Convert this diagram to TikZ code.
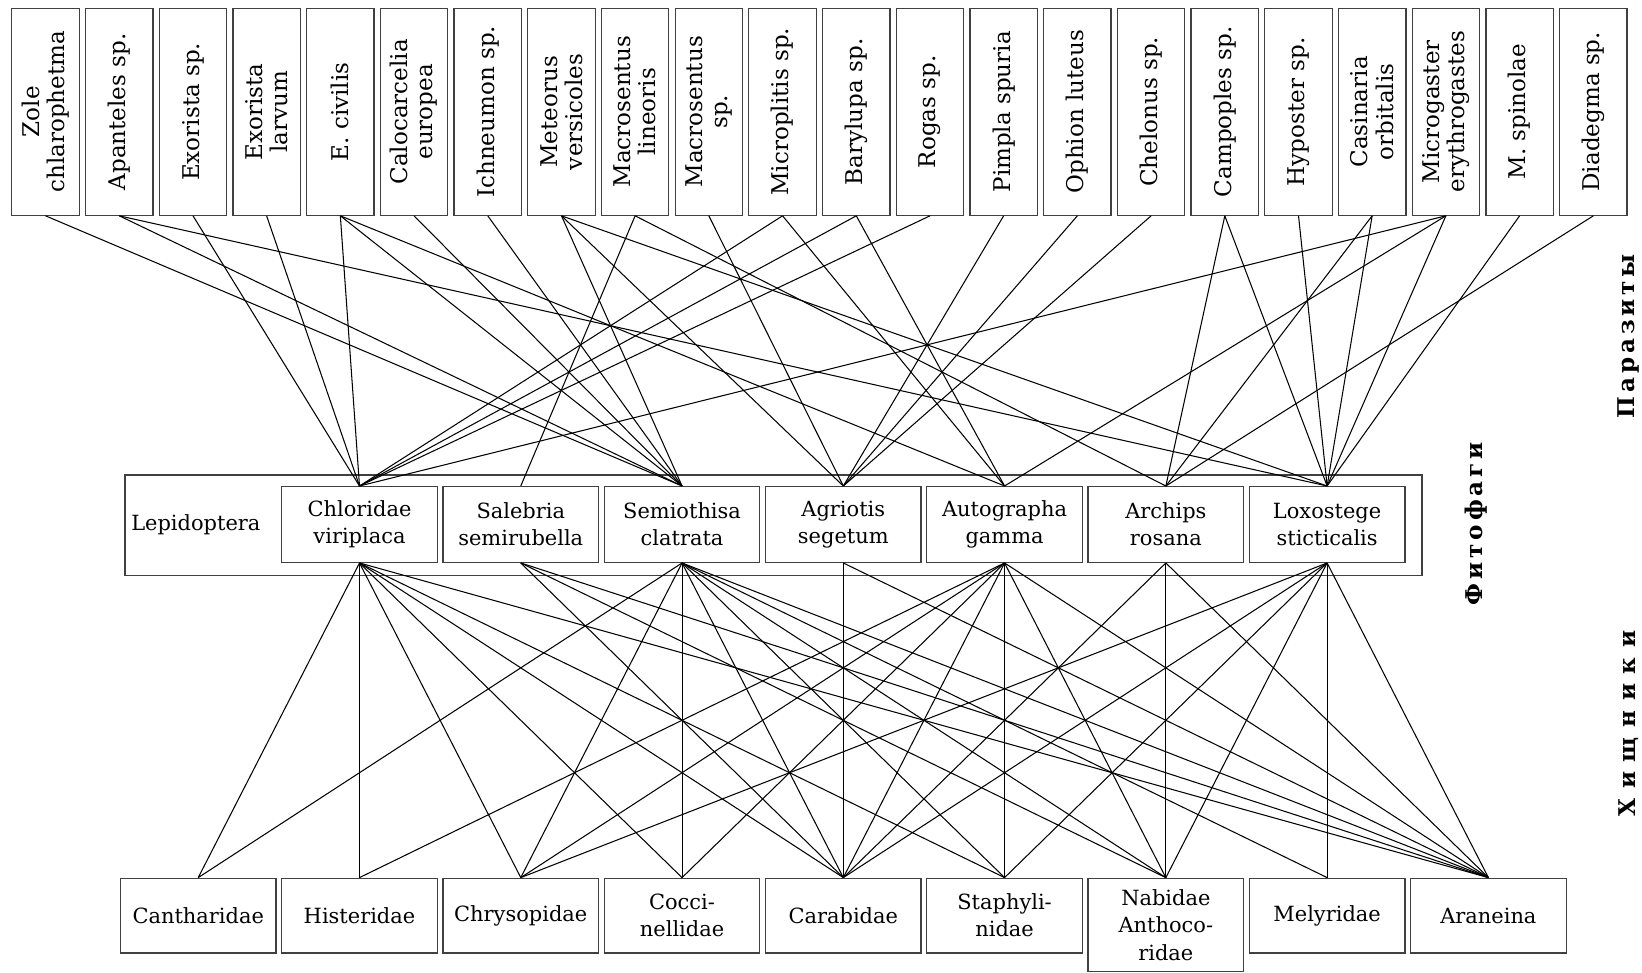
\documentclass[tikz,border=0pt]{standalone}
\usepackage{fontspec}
\setmainfont{DejaVu Serif}
\newfontfamily\rusfont[LetterSpace=17]{DejaVu Serif}
\newfontfamily\rusfontwide[LetterSpace=42]{DejaVu Serif}
\begin{document}
\begin{tikzpicture}[x=0.5pt,y=-0.5pt,
  box/.style={draw=black!75, line width=0.6pt, rectangle, inner sep=0pt, align=center},
  topbox/.style={box, rotate=90, minimum width=98.75pt, minimum height=32.2pt, font=\fontsize{11}{12}\selectfont},
  midbox/.style={box, minimum width=74.25pt, minimum height=36.15pt, font=\fontsize{10}{13}\selectfont},
  botbox/.style={box, minimum width=74.25pt, minimum height=35.65pt, font=\fontsize{10}{13}\selectfont},
  link/.style={line width=0.5pt, black},
  grp/.style={rotate=90, inner sep=0pt, font=\rusfont\bfseries\fontsize{11}{12}\selectfont},
  grpwide/.style={rotate=90, inner sep=0pt, font=\rusfontwide\bfseries\fontsize{11}{12}\selectfont}]
\useasboundingbox (0,0) rectangle (1568,929);
% top row: parasites
\node[topbox] (t1)  at (43.5,106.75)   {Zole\\chlarophetma};
\node[topbox] (t2)  at (113.9,106.75)  {Apanteles sp.};
\node[topbox] (t3)  at (184.3,106.75)  {Exorista sp.};
\node[topbox] (t4)  at (254.6,106.75)  {Exorista\\larvum};
\node[topbox] (t5)  at (325.0,106.75)  {E. civilis};
\node[topbox] (t6)  at (395.4,106.75)  {Calocarcelia\\europea};
\node[topbox] (t7)  at (465.8,106.75)  {Ichneumon sp.};
\node[topbox] (t8)  at (536.2,106.75)  {Meteorus\\versicoles};
\node[topbox] (t9)  at (606.5,106.75)  {Macrosentus\\lineoris};
\node[topbox] (t10) at (676.9,106.75)  {Macrosentus\\sp.};
\node[topbox] (t11) at (747.3,106.75)  {Microplitis sp.};
\node[topbox] (t12) at (817.7,106.75)  {Barylupa sp.};
\node[topbox] (t13) at (888.1,106.75)  {Rogas sp.};
\node[topbox] (t14) at (958.4,106.75)  {Pimpla spuria};
\node[topbox] (t15) at (1028.8,106.75) {Ophion luteus};
\node[topbox] (t16) at (1099.2,106.75) {Chelonus sp.};
\node[topbox] (t17) at (1169.6,106.75) {Campoples sp.};
\node[topbox] (t18) at (1240.0,106.75) {Hyposter sp.};
\node[topbox] (t19) at (1310.3,106.75) {Casinaria\\orbitalis};
\node[topbox] (t20) at (1380.7,106.75) {Microgaster\\erythrogastes};
\node[topbox] (t21) at (1451.1,106.75) {M. spinolae};
\node[topbox] (t22) at (1521.5,106.75) {Diadegma sp.};
% middle row: phytophages
\node[box, minimum width=619.3pt, minimum height=48.05pt] (lep) at (738.7,501.65) {};
\node[font=\fontsize{10}{13}\selectfont, inner sep=0pt] (leplabel) at (187,501) {Lepidoptera};
\node[midbox] (m1) at (343.3,500.85)  {Chloridae\\viriplaca};
\node[midbox] (m2) at (497.3,500.85)  {Salebria\\semirubella};
\node[midbox] (m3) at (651.3,500.85)  {Semiothisa\\clatrata};
\node[midbox] (m4) at (805.3,500.85)  {Agriotis\\segetum};
\node[midbox] (m5) at (959.3,500.85)  {Autographa\\gamma};
\node[midbox] (m6) at (1113.3,500.85) {Archips\\rosana};
\node[midbox] (m7) at (1267.3,500.85) {Loxostege\\sticticalis};
% bottom row: predators
\node[botbox] (b1) at (189.3,874.3)  {Cantharidae};
\node[botbox] (b2) at (343.3,874.3)  {Histeridae};
\node[botbox] (b3) at (497.3,874.3)  {Chrysopidae};
\node[botbox] (b4) at (651.3,874.3)  {Cocci-\\nellidae};
\node[botbox] (b5) at (805.3,874.3)  {Carabidae};
\node[botbox] (b6) at (959.3,874.3)  {Staphyli-\\nidae};
\node[botbox, minimum height=44.65pt] (b7) at (1113.3,883.35) {Nabidae\\Anthoco-\\ridae};
\node[botbox] (b8) at (1267.3,874.3) {Melyridae};
\node[botbox] (b9) at (1421.3,874.3) {Araneina};
% group labels
\node[grp] (gp) at (1555,321) {Паразиты};
\node[grp] (gf) at (1410,500) {Фитофаги};
\node[grpwide] (gh) at (1555,691) {Хищники};
% parasite -> phytophage links
\foreach \a/\b in {1/3, 2/3, 2/7, 3/1, 4/1, 5/1, 5/3, 5/5, 6/3, 7/3, 8/3, 8/4, 8/7,
  9/2, 9/6, 10/4, 11/1, 11/5, 12/1, 12/5, 13/1, 14/4, 15/4, 16/4, 17/6, 17/7,
  18/7, 19/6, 19/7, 20/1, 20/5, 20/7, 21/7, 22/6}
  \draw[link] (t\a.west) -- (m\b.north);
% phytophage -> predator links
\foreach \a/\b in {1/1, 1/2, 1/3, 1/4, 1/5, 1/6, 1/9,
  2/5, 2/7, 2/9,
  3/1, 3/3, 3/4, 3/5, 3/6, 3/7, 3/8, 3/9,
  4/5, 4/9,
  5/2, 5/3, 5/4, 5/5, 5/6, 5/7, 5/9,
  6/5, 6/7, 6/9,
  7/3, 7/5, 7/6, 7/7, 7/8, 7/9}
  \draw[link] (m\a.south) -- (b\b.north);
\end{tikzpicture}
\end{document}
